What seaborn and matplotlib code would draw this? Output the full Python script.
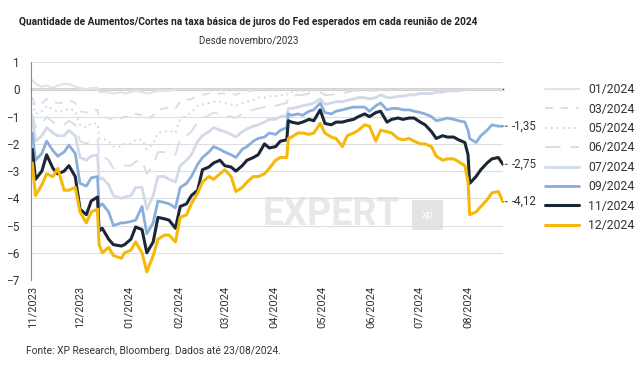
import pandas as pd
import numpy as np
import seaborn as sns
import matplotlib.pyplot as plt
import matplotlib.dates as mdates

# datas (aprox. 2x por semana)
dates = ["2023-11-01", "2023-11-03", "2023-11-07", "2023-11-10", "2023-11-14", "2023-11-17",
         "2023-11-21", "2023-11-24", "2023-11-28", "2023-12-01", "2023-12-05", "2023-12-08",
         "2023-12-12", "2023-12-13", "2023-12-15", "2023-12-19", "2023-12-22", "2023-12-27",
         "2023-12-29", "2024-01-02", "2024-01-05", "2024-01-09", "2024-01-12", "2024-01-16",
         "2024-01-19", "2024-01-23", "2024-01-26", "2024-01-30", "2024-02-02", "2024-02-06",
         "2024-02-09", "2024-02-13", "2024-02-16", "2024-02-20", "2024-02-23", "2024-02-27",
         "2024-03-01", "2024-03-05", "2024-03-08", "2024-03-12", "2024-03-15", "2024-03-19",
         "2024-03-22", "2024-03-26", "2024-03-29", "2024-04-02", "2024-04-05", "2024-04-09",
         "2024-04-10", "2024-04-12", "2024-04-16", "2024-04-19", "2024-04-23", "2024-04-26",
         "2024-04-30", "2024-05-03", "2024-05-07", "2024-05-10", "2024-05-14", "2024-05-17",
         "2024-05-21", "2024-05-24", "2024-05-28", "2024-05-31", "2024-06-04", "2024-06-07",
         "2024-06-11", "2024-06-14", "2024-06-18", "2024-06-21", "2024-06-25", "2024-06-28",
         "2024-07-02", "2024-07-05", "2024-07-09", "2024-07-12", "2024-07-16", "2024-07-19",
         "2024-07-23", "2024-07-26", "2024-07-30", "2024-08-01", "2024-08-02", "2024-08-06",
         "2024-08-09", "2024-08-13", "2024-08-16", "2024-08-20", "2024-08-23"]

r_2401 = [0.35, 0.2, 0.1, 0.15, 0.05, 0.15, 0.2, 0.2, 0.1, 0.05, 0.0, 0.05, 0.05, -0.1,
          -0.1, -0.1, -0.15, -0.1, -0.15, -0.1, -0.05, -0.1, -0.15, -0.1, -0.05, -0.05,
          -0.05, 0.0]

r_2403 = [-0.3, -0.6, -0.5, -0.35, -0.45, -0.5, -0.5, -0.4, -0.5, -0.8, -0.85, -0.75,
          -0.75, -1.0, -1.0, -1.05, -1.1, -1.05, -1.0, -1.0, -0.9, -0.95, -1.1, -0.95,
          -0.75, -0.7, -0.65, -0.7, -0.45, -0.4, -0.35, -0.25, -0.2, -0.15, -0.15, -0.15,
          -0.15, -0.15, -0.2, -0.1, -0.05, -0.05]

r_2405 = [-0.5, -0.9, -0.8, -0.6, -0.75, -0.8, -0.8, -0.7, -0.8, -1.3, -1.4, -1.25,
          -1.25, -1.8, -1.8, -1.9, -2.1, -2.1, -2.0, -2.0, -1.85, -1.85, -2.2, -2.0,
          -1.6, -1.55, -1.5, -1.6, -1.1, -0.95, -0.85, -0.6, -0.55, -0.5, -0.45, -0.45,
          -0.5, -0.55, -0.6, -0.5, -0.45, -0.4, -0.3, -0.3, -0.25, -0.25, -0.2, -0.2,
          -0.1, -0.1, -0.05, -0.05, -0.05, -0.05, 0.0]

r_2406 = [-0.9, -1.4, -1.3, -1.0, -1.2, -1.3, -1.3, -1.15, -1.3, -1.9, -2.0, -1.85,
          -1.8, -2.5, -2.45, -2.6, -2.9, -2.85, -2.8, -2.8, -2.65, -2.6, -3.1, -2.8,
          -2.3, -2.3, -2.3, -2.4, -1.8, -1.7, -1.55, -1.2, -1.05, -0.95, -0.85, -0.9,
          -0.95, -1.0, -1.05, -0.9, -0.8, -0.75, -0.7, -0.65, -0.6, -0.6, -0.55, -0.5,
          -0.25, -0.25, -0.2, -0.2, -0.15, -0.15, -0.1, -0.2, -0.2, -0.15, -0.15, -0.1,
          -0.05, -0.05, -0.05, -0.05, -0.05, 0.0, 0.0]

r_2407 = [-1.1, -1.9, -1.7, -1.4, -1.6, -1.7, -1.7, -1.5, -1.7, -2.5, -2.6, -2.45,
          -2.4, -3.3, -3.25, -3.5, -3.9, -4.0, -3.95, -3.9, -3.6, -3.6, -4.4, -3.9,
          -3.2, -3.2, -3.3, -3.4, -2.8, -2.6, -2.4, -1.9, -1.7, -1.55, -1.4, -1.5,
          -1.55, -1.65, -1.75, -1.55, -1.45, -1.35, -1.3, -1.2, -1.1, -1.1, -1.0, -0.95,
          -0.7, -0.7, -0.65, -0.6, -0.55, -0.5, -0.35, -0.55, -0.5, -0.45, -0.45, -0.4,
          -0.35, -0.3, -0.3, -0.35, -0.3, -0.2, -0.3, -0.3, -0.25, -0.25, -0.2, -0.2,
          -0.15, -0.15, -0.15, -0.1, -0.1, -0.05, -0.05, -0.05, 0.0]

r_2409 = [-1.6, -2.6, -2.35, -1.9, -2.25, -2.45, -2.3, -2.05, -2.35, -3.45, -3.55, -3.25,
          -3.2, -4.3, -4.2, -4.5, -5.0, -4.9, -4.9, -4.85, -4.8, -4.3, -5.3, -4.9,
          -4.1, -4.15, -4.2, -4.35, -3.6, -3.45, -3.2, -2.75, -2.5, -2.3, -2.1, -2.2,
          -2.3, -2.4, -2.5, -2.2, -2.1, -1.9, -1.8, -1.75, -1.6, -1.65, -1.5, -1.4,
          -0.9, -0.95, -0.9, -0.95, -0.8, -0.75, -0.5, -0.85, -0.9, -0.8, -0.75, -0.7,
          -0.65, -0.65, -0.65, -0.8, -0.6, -0.5, -0.75, -0.7, -0.7, -0.75, -0.75, -0.8,
          -0.85, -0.9, -1.0, -1.15, -1.1, -1.05, -1.1, -1.15, -1.2, -1.5, -1.8, -1.95,
          -1.7, -1.5, -1.3, -1.35, -1.35]

r_2411 = [-2.2, -3.3, -3.0, -2.4, -2.9, -3.1, -3.0, -2.8, -3.2, -4.4, -4.6, -4.1,
          -3.95, -5.2, -5.1, -5.5, -5.7, -5.75, -5.7, -5.5, -5.05, -5.15, -6.0, -5.6,
          -4.7, -4.75, -4.8, -5.1, -4.3, -4.2, -3.9, -3.7, -2.95, -2.85, -2.7, -2.6,
          -2.8, -2.85, -3.0, -2.8, -2.6, -2.5, -2.4, -2.0, -2.15, -2.1, -1.9, -1.85,
          -1.15, -1.2, -1.25, -1.2, -1.1, -1.15, -0.75, -1.25, -1.3, -1.2, -1.2, -1.15,
          -1.1, -1.0, -0.9, -1.0, -0.85, -0.8, -1.2, -1.1, -1.05, -1.1, -1.05, -1.05,
          -1.2, -1.3, -1.55, -1.8, -1.7, -1.75, -1.75, -1.85, -1.95, -2.4, -3.45, -3.2,
          -2.95, -2.7, -2.55, -2.5, -2.75]

r_2412 = [-2.7, -3.9, -3.5, -3.1, -3.2, -2.9, -3.7, -3.7, -3.6, -4.5, -4.9, -4.5,
          -4.4, -5.7, -6.0, -5.8, -6.1, -6.2, -6.0, -5.9, -5.6, -6.0, -6.7, -6.1,
          -5.5, -5.35, -5.35, -5.6, -4.7, -4.6, -4.2, -3.8, -3.4, -3.2, -3.3, -3.1,
          -2.95, -3.2, -3.75, -3.6, -3.4, -3.2, -3.2, -3.1, -2.9, -2.6, -2.5, -2.5,
          -1.8, -1.75, -1.6, -1.6, -1.65, -1.6, -1.25, -1.6, -1.75, -1.8, -2.1, -1.7,
          -1.6, -1.5, -1.3, -1.35, -1.9, -1.5, -1.55, -1.6, -1.8, -1.85, -1.8, -1.9,
          -2.0, -2.0, -2.1, -2.45, -2.6, -2.55, -2.55, -2.65, -2.8, -3.4, -4.6, -4.5,
          -4.3, -4.05, -3.8, -3.75, -4.12]

series = {
    "01/2024": r_2401, "03/2024": r_2403, "05/2024": r_2405, "06/2024": r_2406,
    "07/2024": r_2407, "09/2024": r_2409, "11/2024": r_2411, "12/2024": r_2412,
}
end_labels = {"09/2024": "-1,35", "11/2024": "-2,75", "12/2024": "-4,12"}

styles = {
    "01/2024": dict(color="#dfe5ef", ls="-", lw=1.6),
    "03/2024": dict(color="#d8dfea", ls=(0, (4, 4)), lw=1.4),
    "05/2024": dict(color="#d3dae6", ls=(0, (1, 2)), lw=1.4),
    "06/2024": dict(color="#d8dfea", ls=(0, (8, 5)), lw=1.4),
    "07/2024": dict(color="#d2dae7", ls="-", lw=2.0),
    "09/2024": dict(color="#8aaedc", ls="-", lw=2.0),
    "11/2024": dict(color="#1a2638", ls="-", lw=2.2),
    "12/2024": dict(color="#f5b90a", ls="-", lw=2.2),
}

frames = []
for name, vals in series.items():
    frames.append(pd.DataFrame({"data": pd.to_datetime(dates[:len(vals)]),
                                "valor": vals, "reuniao": name}))
df = pd.concat(frames, ignore_index=True)

sns.set_style("white")
plt.rcParams["font.family"] = ["Roboto", "DejaVu Sans"]

fig = plt.figure(figsize=(6.4, 3.68), dpi=100)
ax = fig.add_axes([0.048, 0.239, 0.738, 0.592])

for name in series:
    st = styles[name]
    sns.lineplot(data=df[df["reuniao"] == name], x="data", y="valor", ax=ax,
                 color=st["color"], linestyle=st["ls"], linewidth=st["lw"],
                 label=name)

ax.set_ylim(-7, 1)
ax.set_yticks(range(-7, 2))
ax.set_xlim(pd.Timestamp("2023-10-31"), pd.Timestamp("2024-08-23"))
ax.grid(axis="y", color="#dedede", lw=0.8)
ax.set_axisbelow(True)
ax.set_xlabel("")
ax.set_ylabel("")

for s in ["top", "right"]:
    ax.spines[s].set_visible(False)
ax.spines["left"].set_color("#888888")
ax.spines["left"].set_linewidth(0.8)
ax.spines["bottom"].set_position(("data", 0))
ax.spines["bottom"].set_color("#222222")
ax.spines["bottom"].set_linewidth(1.0)
ax.spines["bottom"].set_zorder(0.5)

ax.xaxis.set_major_locator(mdates.MonthLocator())
ax.tick_params(axis="x", direction="out", length=3, width=0.8, color="#222222",
               labelbottom=False)
ax.tick_params(axis="y", length=0, labelsize=8.5, labelcolor="#333333", pad=8)

sec = ax.secondary_xaxis(0)
sec.xaxis.set_major_locator(mdates.MonthLocator())
sec.xaxis.set_major_formatter(mdates.DateFormatter("%m/%Y"))
sec.tick_params(length=0, labelsize=8, labelcolor="#333333", rotation=90, pad=4)
sec.spines["bottom"].set_visible(False)

# rótulos finais
for name, txt in end_labels.items():
    vals = series[name]
    ax.annotate(txt, xy=(pd.Timestamp(dates[len(vals) - 1]), vals[-1]),
                xytext=(6, 0), textcoords="offset points", va="center", ha="left",
                fontsize=8.3, color="#333333", annotation_clip=False,
                arrowprops=dict(arrowstyle="-", linestyle=(0, (2, 1.5)), lw=0.8,
                                color="#555555", shrinkA=0.5, shrinkB=0))

# marca d'água
ax.text(0.49, 0.3, "EXPERT", transform=ax.transAxes, fontsize=27, fontweight="bold",
        color="#e8e8e8", ha="left", va="center", zorder=0)
ax.text(0.84, 0.3, "xp", transform=ax.transAxes, fontsize=8, color="white",
        ha="center", va="center", zorder=0,
        bbox=dict(boxstyle="square,pad=0.9", fc="#e4e4e4", ec="none"))

leg = ax.legend(loc="upper left", bbox_to_anchor=(1.079, 0.925), frameon=False,
                fontsize=8.8, handlelength=2.8, labelspacing=0.52, handletextpad=0.7,
                borderaxespad=0)
for t in leg.get_texts():
    t.set_color("#333333")

fig.text(0.388, 0.94, "Quantidade de Aumentos/Cortes na taxa básica de juros do Fed "
         "esperados em cada reunião de 2024", ha="center", va="center", fontsize=7.3,
         fontweight="bold", color="#222222")
fig.text(0.388, 0.891, "Desde novembro/2023", ha="center", va="center", fontsize=7.0,
         color="#333333")
fig.text(0.04, 0.045, "Fonte: XP Research, Bloomberg. Dados até 23/08/2024.", ha="left",
         va="center", fontsize=7.4, color="#333333")

fig.savefig("out.png", dpi=100, facecolor="white")
